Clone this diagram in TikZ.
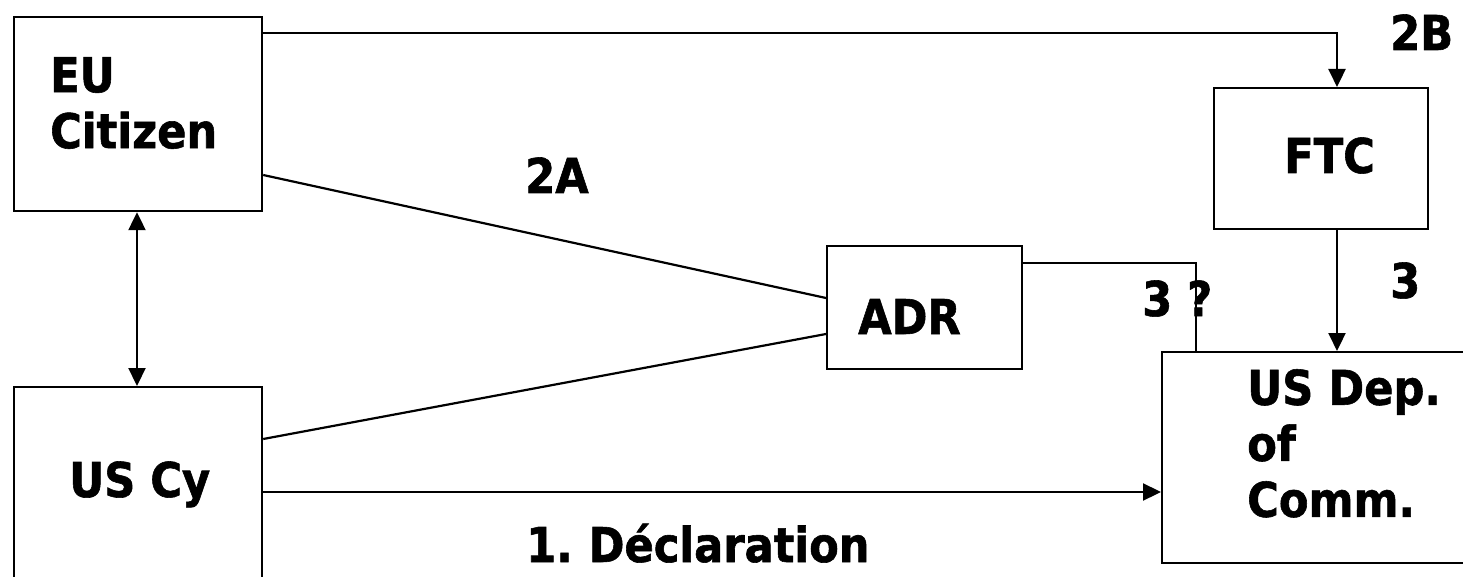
\documentclass[tikz,border=0pt]{standalone}
\usepackage{fontspec}
\setmainfont{DejaVu Sans Condensed}[BoldFont={DejaVu Sans Condensed Bold}, BoldFeatures={FakeBold=1.2}]
\usetikzlibrary{arrows.meta,calc}
\tikzset{
 box/.style={draw, line width=2.2pt, inner sep=0pt, anchor=north west},
 conn/.style={line width=2.2pt},
 tip/.tip={Triangle[length=18pt,width=17pt]},
 arr/.style={conn, -tip},
 dbl/.style={conn, tip-tip},
 lbl/.style={inner sep=0pt, anchor=base west, font=\bfseries\fontsize{48}{56}\selectfont},
 blk/.style={inner sep=0pt, anchor=north west, align=left, font=\bfseries\fontsize{48}{56}\selectfont},
}
\begin{document}
\begin{tikzpicture}[x=1pt,y=-1pt]
\useasboundingbox (0,0) rectangle (1463,577);
\clip (0,0) rectangle (1463,577);
\fill[white] (0,0) rectangle (1463,577);
% boxes
\node[box, minimum width=248pt, minimum height=194pt] (eu) at (13,16) {};
\node[box, minimum width=248pt, minimum height=230pt] (uscy) at (13,386) {};
\node[box, minimum width=195pt, minimum height=123pt] (adr) at (826,245) {};
\node[box, minimum width=214pt, minimum height=141pt] (ftc) at (1213,87) {};
\node[box, minimum width=330pt, minimum height=211pt] (usdep) at (1161,351) {};
% texts
\node[blk] (teu) at (50,57) {EU\\Citizen};
\node[lbl] (tuscy) at (69,497) {US Cy};
\node[lbl] (tadr) at (858,334) {ADR};
\node[lbl] (tftc) at (1284,173) {FTC};
\node[blk] (tusdep) at (1247,369) {US Dep.\\of\\Comm.};
\node[lbl] (l2a) at (525,193) {2A};
\node[lbl] (l2b) at (1390,50) {2B};
\node[lbl] (l3) at (1390,298) {3};
\node[lbl] (l3q) at (1142,316) {3 ?};
\node[lbl] (l1) at (526,562) {1.\hspace{-4pt} Déclaration};
% connectors
\coordinate (ftcin) at ($(ftc.north west)+(124,0)$);
\coordinate (ftcout) at ($(ftc.south west)+(124,0)$);
\coordinate (euout) at ($(eu.north east)+(0,17)$);
\coordinate (adrout) at ($(adr.north east)+(0,18)$);
\coordinate (usdepin) at ($(usdep.north west)+(35,0)$);
\coordinate (uscyout) at ($(uscy.north east)+(0,106)$);
\draw[arr] (euout) -| (ftcin);
\draw[arr] (ftcout) -- (ftcout |- usdep.north);
\draw[conn] ($(eu.north east)+(0,159)$) -- ($(adr.north west)+(0,53)$);
\draw[conn] ($(uscy.north east)+(0,53)$) -- ($(adr.north west)+(0,89)$);
\draw[conn] (adrout) -| (usdepin);
\draw[dbl] ($(eu.south west)+(124,0)$) -- ($(uscy.north west)+(124,0)$);
\draw[arr] (uscyout) -- (uscyout -| usdep.west);
\end{tikzpicture}
\end{document}
